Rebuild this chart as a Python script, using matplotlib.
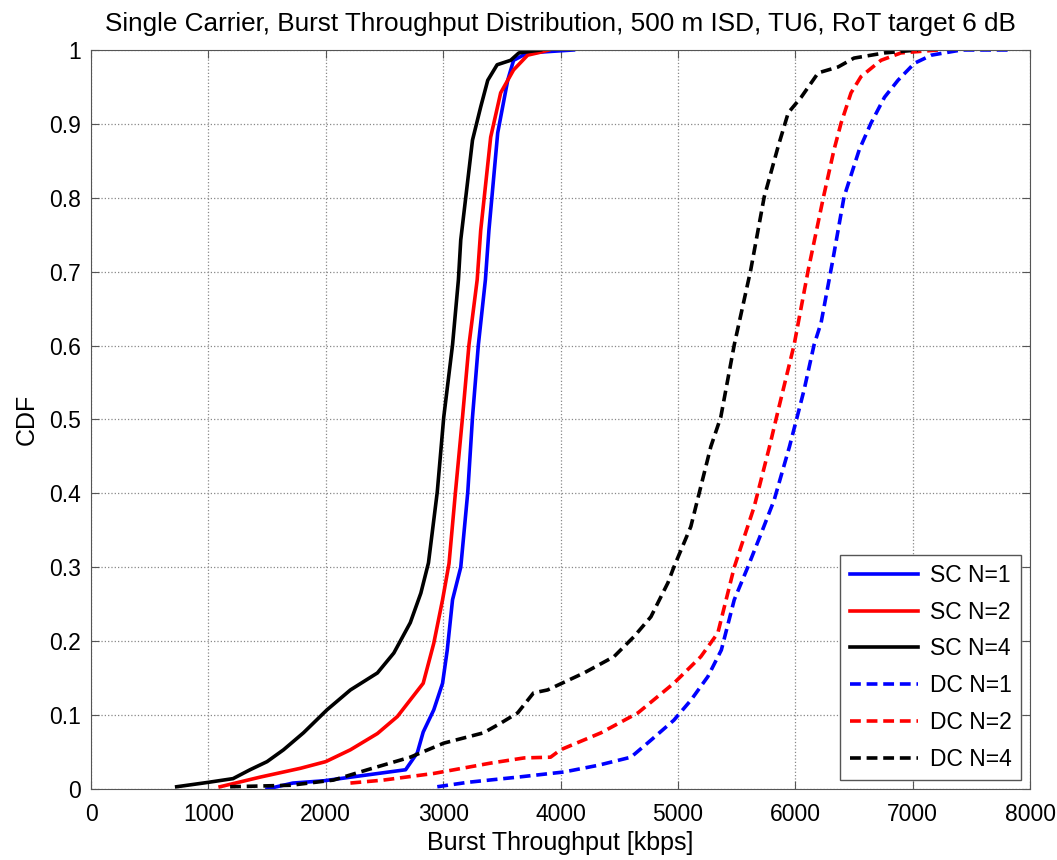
import matplotlib
matplotlib.use("Agg")
import matplotlib.pyplot as plt

plt.rcParams['font.family'] = ['Liberation Sans', 'DejaVu Sans']

# CDF curves (throughput kbps, CDF)
sc1_x = [1500, 1720, 1980, 2680, 2780, 2830, 2920, 2995, 3035, 3080, 3150, 3210, 3250, 3300, 3360, 3390, 3465, 3550, 3600, 3720, 4110]
sc1_y = [0.0, 0.008, 0.011, 0.026, 0.049, 0.077, 0.107, 0.143, 0.188, 0.256, 0.300, 0.402, 0.503, 0.601, 0.689, 0.756, 0.888, 0.959, 0.986, 0.996, 1.0]

sc2_x = [1100, 1440, 1785, 2000, 2210, 2440, 2610, 2830, 2920, 2995, 3050, 3105, 3165, 3220, 3290, 3320, 3405, 3490, 3600, 3720, 3830, 3900]
sc2_y = [0.003, 0.016, 0.028, 0.037, 0.053, 0.075, 0.098, 0.143, 0.197, 0.256, 0.305, 0.402, 0.503, 0.601, 0.689, 0.756, 0.882, 0.942, 0.973, 0.993, 0.997, 1.0]

sc4_x = [730, 1000, 1210, 1355, 1500, 1640, 1810, 2010, 2210, 2440, 2580, 2720, 2810, 2875, 2950, 3005, 3080, 3130, 3150, 3250, 3320, 3380, 3460, 3575, 3645, 3830]
sc4_y = [0.003, 0.009, 0.014, 0.026, 0.037, 0.053, 0.076, 0.107, 0.134, 0.157, 0.184, 0.225, 0.265, 0.306, 0.402, 0.503, 0.601, 0.689, 0.743, 0.878, 0.923, 0.959, 0.980, 0.986, 0.996, 1.0]

dc1_x = [2950, 3210, 3635, 4030, 4320, 4600, 4770, 4965, 5110, 5255, 5370, 5480, 5595, 5710, 5820, 5950, 6025, 6075, 6160, 6220, 6320, 6415, 6545, 6645, 6760, 6875, 7015, 7160, 7415, 7815]
dc1_y = [0.003, 0.009, 0.016, 0.023, 0.032, 0.043, 0.066, 0.093, 0.120, 0.152, 0.188, 0.256, 0.300, 0.346, 0.391, 0.463, 0.509, 0.540, 0.601, 0.631, 0.716, 0.801, 0.865, 0.901, 0.936, 0.959, 0.982, 0.993, 1.0, 1.0]

dc2_x = [2210, 2490, 2920, 3405, 3690, 3915, 4000, 4345, 4660, 4965, 5195, 5340, 5480, 5650, 5780, 5855, 5990, 6110, 6240, 6330, 6390, 6475, 6560, 6730, 6900, 7220]
dc2_y = [0.008, 0.012, 0.021, 0.035, 0.042, 0.043, 0.053, 0.076, 0.103, 0.143, 0.179, 0.211, 0.300, 0.382, 0.463, 0.513, 0.601, 0.702, 0.801, 0.865, 0.901, 0.942, 0.964, 0.986, 0.996, 1.0]

dc4_x = [1185, 1700, 2065, 2355, 2720, 3005, 3345, 3490, 3635, 3770, 3890, 4200, 4455, 4625, 4770, 4915, 4965, 5110, 5195, 5280, 5365, 5480, 5620, 5735, 5855, 5940, 6050, 6195, 6365, 6500, 6760, 7045]
dc4_y = [0.003, 0.005, 0.012, 0.026, 0.043, 0.062, 0.076, 0.089, 0.103, 0.130, 0.134, 0.157, 0.179, 0.206, 0.233, 0.279, 0.300, 0.355, 0.409, 0.463, 0.503, 0.601, 0.702, 0.801, 0.870, 0.915, 0.936, 0.969, 0.977, 0.989, 0.996, 1.0]

labels = ['SC N=1', 'SC N=2', 'SC N=4', 'DC N=1', 'DC N=2', 'DC N=4']
xs = [sc1_x, sc2_x, sc4_x, dc1_x, dc2_x, dc4_x]
ys = [sc1_y, sc2_y, sc4_y, dc1_y, dc2_y, dc4_y]
colors = ['#0000ff', '#ff0000', '#000000', '#0000ff', '#ff0000', '#000000']
styles = ['-', '-', '-', '--', '--', '--']

fig = plt.figure(figsize=(10.57, 8.6), dpi=100)
ax = fig.add_axes([0.0861, 0.0826, 0.8884, 0.8593])

for x, y, c, ls, lab in zip(xs, ys, colors, styles, labels):
    ax.plot(x, y, color=c, linestyle=ls, linewidth=2.6, label=lab,
            dashes=(3, 1.6) if ls == '--' else (None, None))

ax.set_xlim(0, 8000)
ax.set_ylim(0, 1)
ax.set_xticks(range(0, 8001, 1000))
ax.set_yticks([i / 10 for i in range(11)])
ax.set_yticklabels(['0', '0.1', '0.2', '0.3', '0.4', '0.5', '0.6', '0.7', '0.8', '0.9', '1'])
ax.tick_params(direction='in', labelsize=16.5, length=6, top=True, right=True, color='#555555')
ax.tick_params(axis='x', pad=10)
ax.tick_params(axis='y', pad=7)
ax.grid(True, linestyle=':', color='#888888', linewidth=0.9)
for s in ax.spines.values():
    s.set_color('#555555')

ax.set_xlabel('Burst Throughput [kbps]', fontsize=18, labelpad=4)
ax.set_ylabel('CDF', fontsize=18, labelpad=8)
ax.set_title('Single Carrier, Burst Throughput Distribution, 500 m ISD, TU6, RoT target 6 dB',
             fontsize=18.8, pad=14)

leg = ax.legend(loc='lower right', fontsize=16.5, fancybox=False, framealpha=1,
                edgecolor='#555555', handlelength=3.0, labelspacing=0.6,
                handletextpad=0.5, borderaxespad=0.4, borderpad=0.4)

fig.savefig('out.png', dpi=100)
